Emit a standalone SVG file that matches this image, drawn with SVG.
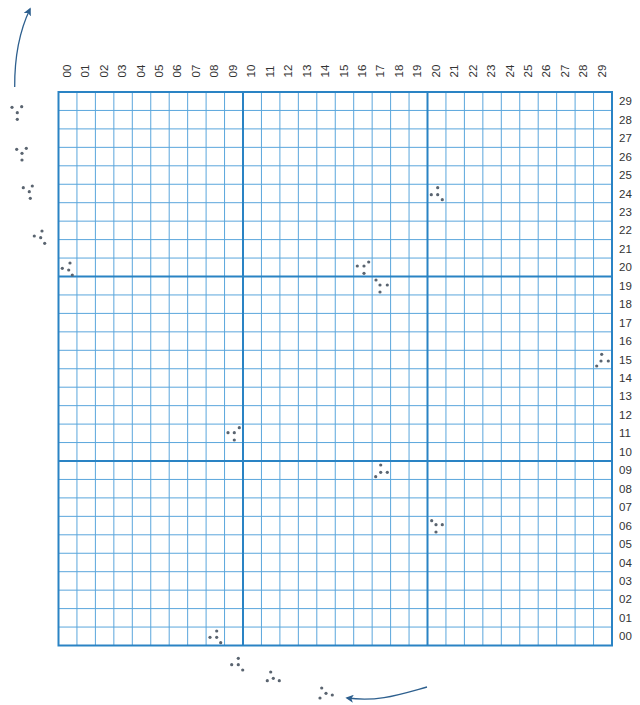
<svg xmlns="http://www.w3.org/2000/svg" width="640" height="705" viewBox="0 0 640 705">
<style>
.thin{stroke:#5aa6dc;stroke-width:1;fill:none}
.thick{stroke:#2a83c4;stroke-width:2;fill:none}
.lbl{font-family:"Liberation Sans",Arial,sans-serif;font-size:11.5px;fill:#333}
.dots circle{fill:#5a6470}
.arr{stroke:#2d5f8e;stroke-width:1.3;fill:none}
</style>
<defs>
<marker id="ah" viewBox="0 0 10 10" refX="8" refY="5" markerWidth="8" markerHeight="8" orient="auto" markerUnits="userSpaceOnUse">
<path d="M0,0 L10,5 L0,10 L2.5,5 Z" fill="#2d5f8e"/>
</marker>
</defs>
<rect width="640" height="705" fill="#fff"/>
<g id="grid">
<path class="thin" d="M76.95 92V645.5M95.4 92V645.5M113.85 92V645.5M132.3 92V645.5M150.75 92V645.5M169.2 92V645.5M187.65 92V645.5M206.1 92V645.5M224.55 92V645.5M261.45 92V645.5M279.9 92V645.5M298.35 92V645.5M316.8 92V645.5M335.25 92V645.5M353.7 92V645.5M372.15 92V645.5M390.6 92V645.5M409.05 92V645.5M445.95 92V645.5M464.4 92V645.5M482.85 92V645.5M501.3 92V645.5M519.75 92V645.5M538.2 92V645.5M556.65 92V645.5M575.1 92V645.5M593.55 92V645.5
M58.5 110.45H612M58.5 128.9H612M58.5 147.35H612M58.5 165.8H612M58.5 184.25H612M58.5 202.7H612M58.5 221.15H612M58.5 239.6H612M58.5 258.05H612M58.5 294.95H612M58.5 313.4H612M58.5 331.85H612M58.5 350.3H612M58.5 368.75H612M58.5 387.2H612M58.5 405.65H612M58.5 424.1H612M58.5 442.55H612M58.5 479.45H612M58.5 497.9H612M58.5 516.35H612M58.5 534.8H612M58.5 553.25H612M58.5 571.7H612M58.5 590.15H612M58.5 608.6H612M58.5 627.05H612"/>
<path class="thick" d="M243 92V645.5M427.5 92V645.5M58.5 276.5H612M58.5 461H612"/>
<rect class="thick" x="58.5" y="92" width="553.5" height="553.5"/>
</g>
<g id="row-labels" class="lbl">
<text x="619" y="101.23" dy="0.35em">29</text>
<text x="619" y="119.68" dy="0.35em">28</text>
<text x="619" y="138.13" dy="0.35em">27</text>
<text x="619" y="156.58" dy="0.35em">26</text>
<text x="619" y="175.03" dy="0.35em">25</text>
<text x="619" y="193.48" dy="0.35em">24</text>
<text x="619" y="211.93" dy="0.35em">23</text>
<text x="619" y="230.38" dy="0.35em">22</text>
<text x="619" y="248.83" dy="0.35em">21</text>
<text x="619" y="267.28" dy="0.35em">20</text>
<text x="619" y="285.73" dy="0.35em">19</text>
<text x="619" y="304.18" dy="0.35em">18</text>
<text x="619" y="322.63" dy="0.35em">17</text>
<text x="619" y="341.08" dy="0.35em">16</text>
<text x="619" y="359.53" dy="0.35em">15</text>
<text x="619" y="377.98" dy="0.35em">14</text>
<text x="619" y="396.43" dy="0.35em">13</text>
<text x="619" y="414.88" dy="0.35em">12</text>
<text x="619" y="433.33" dy="0.35em">11</text>
<text x="619" y="451.78" dy="0.35em">10</text>
<text x="619" y="470.23" dy="0.35em">09</text>
<text x="619" y="488.68" dy="0.35em">08</text>
<text x="619" y="507.13" dy="0.35em">07</text>
<text x="619" y="525.58" dy="0.35em">06</text>
<text x="619" y="544.03" dy="0.35em">05</text>
<text x="619" y="562.48" dy="0.35em">04</text>
<text x="619" y="580.93" dy="0.35em">03</text>
<text x="619" y="599.38" dy="0.35em">02</text>
<text x="619" y="617.83" dy="0.35em">01</text>
<text x="619" y="636.28" dy="0.35em">00</text>
</g>
<g id="col-labels" class="lbl" transform="rotate(-90)">
<text x="-77.5" y="66.7" dy="0.35em">00</text>
<text x="-77.5" y="85.2" dy="0.35em">01</text>
<text x="-77.5" y="103.6" dy="0.35em">02</text>
<text x="-77.5" y="122.1" dy="0.35em">03</text>
<text x="-77.5" y="140.5" dy="0.35em">04</text>
<text x="-77.5" y="159" dy="0.35em">05</text>
<text x="-77.5" y="177.4" dy="0.35em">06</text>
<text x="-77.5" y="195.9" dy="0.35em">07</text>
<text x="-77.5" y="214.3" dy="0.35em">08</text>
<text x="-77.5" y="232.8" dy="0.35em">09</text>
<text x="-77.5" y="251.2" dy="0.35em">10</text>
<text x="-77.5" y="269.7" dy="0.35em">11</text>
<text x="-77.5" y="288.1" dy="0.35em">12</text>
<text x="-77.5" y="306.6" dy="0.35em">13</text>
<text x="-77.5" y="325" dy="0.35em">14</text>
<text x="-77.5" y="343.5" dy="0.35em">15</text>
<text x="-77.5" y="361.9" dy="0.35em">16</text>
<text x="-77.5" y="380.4" dy="0.35em">17</text>
<text x="-77.5" y="398.8" dy="0.35em">18</text>
<text x="-77.5" y="417.3" dy="0.35em">19</text>
<text x="-77.5" y="435.7" dy="0.35em">20</text>
<text x="-77.5" y="454.2" dy="0.35em">21</text>
<text x="-77.5" y="472.6" dy="0.35em">22</text>
<text x="-77.5" y="491.1" dy="0.35em">23</text>
<text x="-77.5" y="509.5" dy="0.35em">24</text>
<text x="-77.5" y="528" dy="0.35em">25</text>
<text x="-77.5" y="546.4" dy="0.35em">26</text>
<text x="-77.5" y="564.9" dy="0.35em">27</text>
<text x="-77.5" y="583.3" dy="0.35em">28</text>
<text x="-77.5" y="601.8" dy="0.35em">29</text>
</g>
<g id="connectors">
<path class="arr" d="M14.7,87 C14.5,58 19,32 30,9" marker-end="url(#ah)"/>
<path class="arr" d="M427,687 C398,695 378,702 347,698" marker-end="url(#ah)"/>
</g>
<g class="dots">
<g id="g1"><circle cx="12" cy="107.3" r="1.6"/><circle cx="21.7" cy="106.7" r="1.6"/><circle cx="17.3" cy="112.7" r="1.6"/><circle cx="17.3" cy="119.3" r="1.6"/></g>
<g id="g2"><circle cx="16.7" cy="149.3" r="1.6"/><circle cx="26.3" cy="148.3" r="1.6"/><circle cx="22" cy="153.3" r="1.6"/><circle cx="22" cy="160" r="1.6"/></g>
<g id="g3"><circle cx="23.3" cy="187.7" r="1.6"/><circle cx="32.3" cy="186" r="1.6"/><circle cx="29.3" cy="191.7" r="1.6"/><circle cx="30.3" cy="198.3" r="1.6"/></g>
<g id="g4"><circle cx="42" cy="231" r="1.6"/><circle cx="34.3" cy="236" r="1.6"/><circle cx="40.7" cy="237.7" r="1.6"/><circle cx="44.7" cy="243.3" r="1.6"/></g>
<g id="g5"><circle cx="70" cy="263" r="1.6"/><circle cx="62.3" cy="268.3" r="1.6"/><circle cx="68.7" cy="270" r="1.6"/><circle cx="72.3" cy="275" r="1.6"/></g>
<g id="g6"><circle cx="357.3" cy="266" r="1.6"/><circle cx="364" cy="266" r="1.6"/><circle cx="368.7" cy="262" r="1.6"/><circle cx="364" cy="273.3" r="1.6"/></g>
<g id="g7"><circle cx="376" cy="280" r="1.6"/><circle cx="380" cy="285" r="1.6"/><circle cx="387.3" cy="285" r="1.6"/><circle cx="380" cy="292" r="1.6"/></g>
<g id="g8"><circle cx="437.7" cy="187.7" r="1.6"/><circle cx="431.3" cy="194.7" r="1.6"/><circle cx="437.7" cy="194.7" r="1.6"/><circle cx="442.3" cy="199.7" r="1.6"/></g>
<g id="g9"><circle cx="601.7" cy="354.3" r="1.6"/><circle cx="601" cy="361" r="1.6"/><circle cx="608.3" cy="361" r="1.6"/><circle cx="596.7" cy="366" r="1.6"/></g>
<g id="g10"><circle cx="228" cy="432.7" r="1.6"/><circle cx="234.3" cy="432.7" r="1.6"/><circle cx="239.3" cy="427.7" r="1.6"/><circle cx="234.3" cy="440" r="1.6"/></g>
<g id="g11"><circle cx="380.7" cy="465" r="1.6"/><circle cx="380.7" cy="472.3" r="1.6"/><circle cx="387.3" cy="472.3" r="1.6"/><circle cx="375.7" cy="476.7" r="1.6"/></g>
<g id="g12"><circle cx="431.7" cy="520.7" r="1.6"/><circle cx="436" cy="524.7" r="1.6"/><circle cx="442.3" cy="524.7" r="1.6"/><circle cx="436" cy="532" r="1.6"/></g>
<g id="g13"><circle cx="216.7" cy="631" r="1.6"/><circle cx="210" cy="637.3" r="1.6"/><circle cx="216.7" cy="637.3" r="1.6"/><circle cx="220.7" cy="642.7" r="1.6"/></g>
<g id="g14"><circle cx="238.3" cy="658.3" r="1.6"/><circle cx="231.7" cy="664.7" r="1.6"/><circle cx="238.3" cy="664.7" r="1.6"/><circle cx="242.7" cy="670" r="1.6"/></g>
<g id="g15"><circle cx="270.7" cy="672" r="1.6"/><circle cx="267.3" cy="680.7" r="1.6"/><circle cx="273.3" cy="678.3" r="1.6"/><circle cx="279.3" cy="680.7" r="1.6"/></g>
<g id="g16"><circle cx="321.7" cy="688" r="1.6"/><circle cx="326" cy="693.3" r="1.6"/><circle cx="320" cy="698" r="1.6"/><circle cx="332.3" cy="695" r="1.6"/></g>
</g>
</svg>
